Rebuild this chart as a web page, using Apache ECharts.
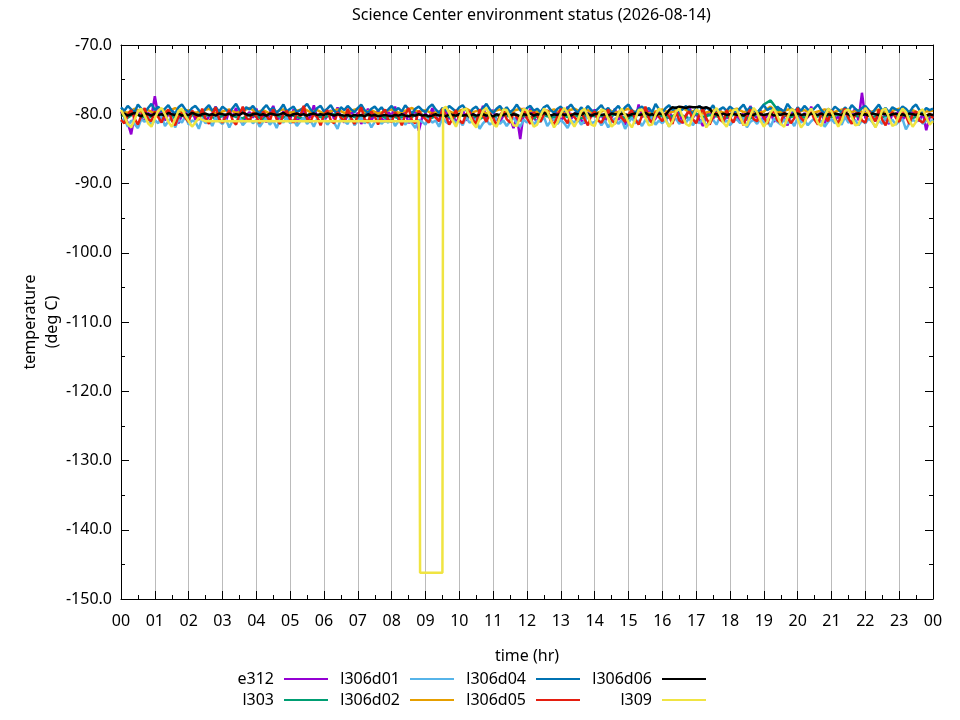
<!DOCTYPE html>
<html>
<head>
<meta charset="utf-8">
<script src="https://cdn.jsdelivr.net/npm/echarts@6/dist/echarts.min.js"></script>
<style>
html,body{margin:0;padding:0;background:#fff;}
#chart{width:960px;height:720px;}
</style>
</head>
<body>
<div id="chart"></div>
<script>
// ---------------- data (temperature, deg C) ----------------
const chartTitle = 'Science Center environment status (2026-08-14)';
const xName = 'time (hr)';
const yName = 'temperature\n(deg C)';
const hourTicks = ['00','01','02','03','04','05','06','07','08','09','10','11','12',
  '13','14','15','16','17','18','19','20','21','22','23','00'];
const seriesNames = ['e312','l303','l306d01','l306d02','l306d04','l306d05','l306d06','l309'];
const seriesColors = ['#9400d3','#009e73','#56b4e9','#e69f00','#0072b2','#e51e10','#000000','#f0e442'];

// sampled every 0.1 hr (6 min)
const e312 = [
-79.6,-80.4,-81.2,-82.9,-80.1,-79.3,-80.6,-81.0,-79.8,-80.3,
-77.4,-80.2,-79.5,-80.9,-80.0,-79.2,-80.7,-81.3,-80.1,-79.7,
-80.5,-79.4,-80.8,-80.2,-79.6,-81.1,-80.3,-79.9,-78.9,-80.6,
-80.0,-81.0,-79.5,-80.4,-79.1,-80.8,-81.4,-80.2,-79.7,-80.5,
-79.2,-80.6,-80.1,-81.2,-79.8,-78.8,-80.4,-80.9,-79.6,-80.2,
-80.7,-79.3,-81.3,-80.0,-79.5,-80.8,-80.3,-78.7,-80.6,-79.9,
-81.0,-80.2,-79.4,-80.7,-79.0,-80.5,-81.2,-80.1,-79.6,-80.4,
-79.8,-81.4,-80.3,-79.2,-80.9,-80.0,-79.5,-80.6,-81.1,-79.7,
-80.2,-78.9,-80.8,-80.4,-79.6,-81.3,-80.1,-79.4,-82.4,-80.5,
-79.9,-80.6,-79.1,-80.3,-81.0,-80.2,-79.5,-80.7,-79.8,-81.2,
-80.4,-79.3,-80.9,-80.1,-79.7,-81.4,-80.3,-78.8,-80.6,-80.0,
-79.4,-80.8,-81.1,-80.2,-79.6,-80.5,-82.0,-80.3,-83.6,-79.9,
-80.6,-79.2,-80.4,-81.2,-79.8,-80.1,-79.5,-80.9,-80.3,-79.6,
-81.0,-80.2,-78.9,-80.7,-80.0,-79.4,-80.8,-81.3,-79.7,-80.4,
-79.3,-80.6,-80.1,-81.1,-79.9,-80.5,-79.2,-80.8,-80.2,-81.5,
-80.3,-79.6,-80.9,-78.6,-80.4,-80.0,-79.5,-81.2,-80.6,-79.8,
-80.2,-81.0,-79.4,-80.7,-80.1,-79.7,-81.3,-80.4,-78.9,-80.5,
-79.9,-80.8,-81.7,-80.2,-79.5,-80.6,-80.0,-79.3,-81.0,-80.4,
-80.7,-79.6,-80.3,-81.2,-79.8,-80.9,-78.8,-80.1,-80.5,-79.4,
-80.8,-80.2,-79.7,-81.1,-80.4,-79.2,-80.6,-81.6,-80.0,-79.5,
-80.3,-81.0,-79.8,-80.5,-78.9,-80.7,-80.2,-79.6,-81.3,-80.1,
-79.4,-80.8,-80.3,-81.2,-79.7,-80.5,-80.0,-79.2,-80.9,-76.9,
-80.6,-79.8,-80.4,-81.0,-80.2,-79.5,-80.7,-81.4,-79.9,-80.3,
-79.3,-80.8,-80.1,-81.2,-79.6,-80.4,-81.0,-79.8,-82.3,-80.5,
-80.2];

// sampled every 0.2 hr (12 min)
const l303 = [
-80.1,-80.5,-79.8,-80.3,-80.6,
-80.0,-80.4,-79.9,-80.6,-80.2,
-80.5,-79.8,-80.3,-80.1,-80.7,
-80.2,-79.9,-80.4,-80.6,-80.0,
-80.3,-80.7,-79.9,-80.2,-80.5,
-80.0,-80.4,-80.6,-79.8,-80.3,
-80.5,-80.1,-79.9,-80.4,-80.2,
-80.6,-80.0,-80.3,-79.9,-80.5,
-80.2,-80.6,-80.1,-80.4,-79.8,
-80.3,-80.5,-80.0,-80.2,-80.6,
-79.9,-80.4,-80.2,-80.7,-80.1,
-80.5,-80.0,-80.3,-79.8,-80.4,
-80.2,-80.6,-79.9,-80.3,-80.5,
-80.0,-80.4,-80.1,-80.6,-79.9,
-80.3,-80.2,-80.5,-80.0,-80.4,
-80.6,-79.9,-80.2,-80.4,-80.1,
-80.3,-80.5,-80.0,-80.2,-80.6,
-79.9,-80.4,-80.1,-80.3,-80.5,
-80.2,-80.0,-80.4,-80.6,-79.9,
-78.6,-78.0,-79.3,-80.2,-80.4,
-80.1,-80.5,-79.9,-80.3,-80.2,
-80.4,-80.0,-80.6,-80.1,-80.3,
-79.8,-80.4,-80.2,-80.5,-80.0,
-80.3,-80.1,-80.6,-79.9,-80.2,
-80.4];

// sampled every 0.1 hr
const l306d01 = [
-81.2,-80.6,-81.8,-80.9,-81.4,-82.0,-80.7,-81.1,-80.4,-81.6,
-80.8,-81.3,-80.2,-81.7,-81.0,-80.5,-81.9,-80.8,-81.2,-80.3,
-81.5,-80.9,-81.1,-82.1,-80.6,-81.3,-80.8,-81.7,-80.4,-81.0,
-81.4,-80.7,-81.9,-80.9,-81.2,-80.3,-81.6,-81.0,-80.6,-81.3,
-80.8,-81.8,-81.1,-80.5,-81.5,-80.9,-82.0,-80.7,-81.2,-80.4,
-81.3,-80.8,-81.7,-81.0,-80.5,-81.4,-80.9,-81.8,-80.6,-81.1,
-80.7,-81.5,-80.9,-81.2,-82.1,-80.6,-81.0,-81.4,-80.3,-81.6,
-81.0,-80.5,-81.3,-80.8,-81.9,-81.1,-80.6,-81.4,-80.9,-81.2,
-80.4,-81.7,-81.0,-80.7,-81.5,-80.9,-81.3,-82.0,-80.8,-81.1,
-81.5,-80.6,-81.2,-80.9,-81.8,-80.5,-81.1,-81.4,-80.7,-81.3,
-80.9,-81.6,-80.4,-81.2,-81.0,-80.7,-82.1,-81.3,-80.8,-81.5,
-81.1,-80.6,-81.4,-80.9,-81.7,-81.0,-80.5,-81.3,-81.8,-80.8,
-81.2,-80.6,-81.5,-80.9,-81.1,-80.4,-81.7,-81.0,-80.7,-81.4,
-80.8,-81.3,-82.0,-80.9,-81.2,-80.6,-81.5,-81.0,-80.3,-81.3,
-81.1,-80.7,-81.6,-80.9,-81.9,-81.0,-80.6,-81.4,-80.8,-82.1,
-81.2,-80.5,-81.3,-80.9,-81.7,-80.8,-81.1,-80.4,-81.5,-80.9,
-81.3,-80.7,-81.8,-81.0,-80.6,-81.4,-80.9,-81.2,-80.5,-81.6,
-80.9,-81.3,-80.6,-81.7,-81.0,-80.8,-81.5,-80.4,-81.2,-80.9,
-81.6,-81.0,-80.7,-81.3,-80.5,-81.9,-81.1,-80.8,-81.4,-80.6,
-81.2,-80.9,-81.8,-80.6,-81.1,-81.5,-80.7,-81.3,-80.9,-81.7,
-80.5,-81.2,-80.8,-81.6,-81.0,-80.6,-81.4,-80.9,-81.8,-81.1,
-80.7,-81.3,-80.9,-81.5,-80.4,-81.2,-81.0,-80.8,-81.6,-80.9,
-81.3,-80.6,-81.1,-81.8,-80.9,-81.4,-80.5,-81.2,-80.8,-81.5,
-81.0,-80.7,-82.2,-81.3,-80.8,-81.1,-80.6,-81.4,-80.9,-81.2,
-80.8];

// sampled every 0.2 hr
const l306d02 = [
-79.5,-79.8,-79.2,-79.7,-79.4,
-79.9,-79.3,-79.6,-79.1,-79.7,
-79.4,-79.8,-79.5,-79.2,-79.9,
-79.6,-79.3,-79.8,-79.5,-79.1,
-79.7,-79.4,-79.9,-79.6,-79.3,
-79.8,-79.5,-79.2,-79.7,-79.4,
-79.9,-79.6,-79.3,-79.8,-79.5,
-79.2,-79.7,-79.4,-79.9,-79.6,
-79.3,-79.8,-79.5,-79.1,-79.7,
-79.4,-79.9,-79.6,-79.3,-79.8,
-79.5,-79.2,-79.7,-79.4,-79.9,
-79.6,-79.3,-79.8,-79.5,-79.2,
-79.7,-79.4,-79.9,-79.6,-79.3,
-79.8,-79.5,-79.2,-79.7,-79.4,
-79.9,-79.6,-79.3,-79.8,-79.5,
-79.2,-79.7,-79.4,-79.9,-79.6,
-79.3,-79.8,-79.5,-79.1,-79.7,
-79.4,-79.9,-79.6,-79.3,-79.8,
-79.5,-79.2,-79.7,-79.4,-79.9,
-79.6,-78.9,-79.8,-79.5,-79.2,
-79.7,-79.4,-79.9,-79.6,-79.3,
-79.8,-79.5,-79.2,-79.7,-79.4,
-79.9,-79.6,-79.3,-79.8,-79.5,
-79.2,-79.7,-79.4,-79.9,-79.6,
-79.5];

// sampled every 0.1 hr
const l306d04 = [
-79.0,-79.5,-78.8,-79.3,-79.7,-78.6,-79.2,-79.8,-79.1,-78.5,
-79.4,-78.9,-79.6,-79.2,-78.7,-79.5,-79.9,-79.0,-78.6,-79.3,
-79.7,-79.1,-78.8,-79.4,-79.9,-79.2,-78.7,-79.5,-79.0,-79.6,
-78.9,-79.3,-79.8,-79.1,-78.5,-79.4,-79.7,-79.0,-79.3,-78.8,
-79.5,-79.9,-79.2,-78.7,-79.4,-79.1,-79.8,-79.3,-78.6,-79.6,
-79.2,-78.9,-79.7,-79.4,-79.0,-78.5,-79.3,-79.8,-79.1,-78.8,
-79.6,-79.2,-78.7,-79.5,-79.9,-79.0,-79.4,-78.8,-79.3,-79.7,
-79.1,-78.6,-79.4,-79.8,-79.2,-78.9,-79.5,-79.0,-79.7,-79.3,
-78.8,-79.5,-79.1,-79.6,-78.7,-79.3,-79.9,-79.2,-78.9,-79.4,
-79.7,-79.0,-78.6,-79.3,-79.8,-79.1,-79.5,-78.8,-79.2,-79.6,
-79.0,-78.7,-79.4,-79.9,-79.2,-78.9,-79.6,-79.1,-78.5,-79.3,
-79.8,-79.2,-78.8,-79.5,-79.0,-79.7,-79.3,-78.6,-79.4,-79.9,
-79.1,-78.8,-79.5,-79.2,-79.7,-79.0,-78.7,-79.4,-79.8,-79.2,
-78.9,-79.6,-79.1,-78.6,-79.3,-79.8,-79.0,-79.5,-78.8,-79.4,
-79.7,-79.2,-78.7,-79.5,-79.1,-79.9,-79.3,-78.8,-79.6,-79.0,
-78.6,-79.4,-79.8,-79.2,-78.9,-79.5,-79.1,-79.7,-78.5,-79.3,
-79.8,-79.1,-78.7,-79.4,-79.0,-79.6,-79.3,-78.8,-79.5,-79.9,
-79.2,-78.8,-79.6,-79.0,-79.4,-78.7,-79.7,-79.3,-79.0,-79.5,
-78.9,-79.3,-79.8,-79.1,-78.6,-79.5,-79.0,-79.4,-79.8,-79.2,
-78.7,-79.4,-79.1,-79.7,-78.9,-79.3,-79.6,-78.5,-79.2,-79.8,
-79.0,-79.5,-78.8,-79.3,-79.7,-79.1,-78.6,-79.4,-79.9,-79.2,
-79.6,-78.9,-79.3,-79.8,-79.0,-79.5,-78.7,-79.2,-79.6,-79.1,
-78.8,-79.4,-79.9,-79.2,-78.6,-79.5,-79.1,-79.7,-79.0,-79.3,
-79.5,-78.9,-79.2,-79.8,-79.0,-78.6,-79.4,-79.7,-79.1,-79.4,
-79.2];

// sampled every 0.1 hr
const l306d05 = [
-80.8,-81.3,-80.1,-79.4,-80.6,-81.5,-80.2,-79.1,-80.7,-81.0,
-79.6,-80.4,-81.2,-80.0,-79.3,-80.9,-81.6,-80.3,-79.8,-80.5,
-81.1,-79.5,-80.2,-80.8,-79.2,-80.6,-81.4,-80.0,-79.0,-80.7,
-81.2,-80.3,-79.4,-80.9,-81.5,-80.1,-78.9,-80.5,-81.0,-79.7,
-80.4,-81.3,-79.6,-80.2,-81.0,-79.3,-80.7,-81.4,-80.0,-79.5,
-80.8,-81.2,-79.8,-80.3,-78.8,-80.6,-81.1,-79.9,-80.4,-81.6,
-80.1,-79.4,-80.9,-81.3,-79.7,-80.5,-81.0,-79.2,-80.6,-81.4,
-80.2,-79.0,-80.7,-81.2,-79.6,-80.3,-81.5,-80.0,-79.3,-80.8,
-81.1,-79.7,-80.4,-81.6,-80.1,-79.1,-80.9,-81.3,-79.5,-80.2,
-80.7,-81.2,-79.8,-80.5,-81.0,-79.2,-80.3,-81.5,-80.6,-79.4,
-80.9,-81.3,-80.0,-79.6,-80.8,-81.4,-79.3,-80.2,-81.1,-79.9,
-80.5,-81.7,-80.1,-79.5,-80.7,-81.2,-79.8,-80.4,-81.0,-79.1,
-80.6,-81.4,-79.7,-80.2,-81.1,-80.0,-79.4,-80.8,-81.5,-80.3,
-79.2,-80.6,-81.3,-79.9,-80.4,-81.0,-79.5,-80.7,-81.6,-80.1,
-79.6,-80.9,-81.2,-80.3,-79.3,-80.8,-81.4,-79.8,-80.5,-81.1,
-80.0,-79.4,-80.7,-81.5,-80.2,-78.9,-80.6,-81.3,-79.7,-80.4,
-81.0,-79.8,-80.3,-81.4,-79.5,-80.9,-81.2,-80.1,-79.6,-80.7,
-81.3,-80.0,-79.2,-80.6,-81.5,-80.3,-79.7,-80.8,-81.1,-79.4,
-80.5,-81.2,-79.9,-80.4,-81.6,-80.1,-79.3,-80.7,-81.0,-79.8,
-80.3,-81.4,-80.0,-79.5,-80.9,-81.2,-79.7,-80.4,-81.3,-80.6,
-79.1,-80.5,-81.1,-80.2,-79.6,-80.8,-81.5,-79.9,-80.3,-81.0,
-79.4,-80.7,-81.3,-80.1,-79.2,-80.6,-81.4,-80.0,-79.8,-80.9,
-81.2,-79.5,-80.4,-81.0,-79.3,-80.8,-81.6,-80.2,-79.7,-80.5,
-81.1,-79.8,-80.3,-81.4,-80.0,-79.6,-80.9,-81.2,-80.4,-79.9,
-80.6];

// sampled every 0.1 hr
const l306d06 = [
-80.1,-79.9,-80.2,-80.0,-79.8,-80.1,-80.3,-79.9,-80.0,-80.2,
-79.9,-80.1,-80.0,-80.2,-79.8,-80.0,-80.1,-79.9,-80.2,-80.0,
-80.1,-79.8,-80.0,-80.2,-80.0,-79.9,-80.1,-80.0,-80.2,-79.9,
-80.0,-80.1,-79.9,-80.2,-80.0,-80.1,-79.8,-80.0,-80.2,-80.0,
-79.9,-80.1,-80.0,-80.2,-79.9,-80.0,-80.1,-80.0,-79.8,-80.1,
-80.2,-80.0,-79.9,-80.1,-80.0,-80.2,-80.0,-79.9,-80.1,-80.0,
-80.1,-79.9,-80.0,-80.2,-80.0,-80.1,-80.2,-80.1,-80.3,-80.1,
-80.2,-80.1,-80.3,-80.0,-80.2,-80.1,-80.3,-80.2,-80.1,-80.2,
-80.3,-80.1,-80.2,-80.0,-80.2,-80.3,-80.1,-80.2,-80.0,-80.2,
-80.1,-80.3,-80.2,-80.0,-80.2,-80.1,-80.3,-80.0,-80.1,-80.2,
-80.0,-80.2,-80.1,-80.3,-80.0,-80.2,-80.1,-80.0,-80.2,-80.1,
-80.3,-80.0,-80.2,-80.1,-79.9,-80.2,-80.0,-80.1,-80.3,-80.0,
-80.1,-79.9,-80.2,-80.0,-80.1,-79.8,-80.0,-80.2,-80.0,-80.1,
-79.9,-80.1,-80.0,-80.2,-79.9,-80.0,-80.1,-79.8,-80.0,-80.2,
-80.0,-79.9,-80.1,-80.0,-80.2,-79.9,-80.0,-80.1,-79.9,-80.0,
-80.2,-80.0,-79.9,-80.1,-80.0,-79.8,-80.1,-80.0,-80.2,-79.9,
-80.0,-80.1,-79.4,-79.0,-79.1,-78.9,-79.0,-79.1,-78.9,-79.0,
-79.0,-78.9,-79.1,-79.0,-79.2,-79.9,-80.0,-80.2,-79.9,-80.1,
-80.0,-79.9,-80.1,-80.0,-80.2,-79.9,-80.0,-80.1,-79.8,-80.0,
-80.1,-80.0,-79.9,-80.2,-80.0,-80.1,-79.9,-80.0,-80.1,-80.0,
-79.9,-80.1,-80.0,-80.2,-79.9,-80.0,-80.1,-79.9,-80.2,-80.0,
-80.1,-79.9,-80.0,-80.1,-79.8,-80.0,-80.2,-80.0,-79.9,-80.1,
-80.0,-80.2,-79.9,-80.0,-80.1,-79.9,-80.0,-80.2,-80.0,-79.9,
-80.1,-80.0,-80.2,-79.9,-80.0,-80.1,-79.9,-80.0,-80.2,-80.0,
-80.1];

// sampled every 0.1 hr
const l309 = [
-79.4,-80.3,-81.4,-81.9,-80.8,-79.6,-79.2,-80.2,-81.3,-81.8,
-80.6,-79.5,-79.1,-80.0,-81.1,-81.8,-80.7,-79.5,-79.2,-80.2,
-81.0,-81.8,-81.2,-80.5,-80.8,-81.0,-81.0,-81.0,-81.0,-81.0,
-81.0,-81.0,-81.0,-81.0,-81.0,-81.0,-81.0,-81.0,-81.0,-81.0,
-81.0,-81.0,-81.0,-81.0,-81.0,-81.0,-81.0,-81.0,-81.0,-81.0,
-81.0,-81.0,-81.0,-81.0,-81.0,-81.0,-81.0,-81.0,-81.0,-81.0,
-81.0,-81.0,-81.0,-81.0,-81.0,-81.0,-81.0,-81.0,-81.0,-81.0,
-81.0,-81.0,-81.0,-81.0,-81.0,-81.0,-81.0,-81.0,-81.0,-81.0,
-81.0,-81.0,-81.0,-81.0,-81.0,-81.0,-81.0,-81.0,-81.0,-146.2,
-146.2,-146.2,-146.2,-146.2,-146.2,-146.2,-78.9,-79.8,-80.9,-81.8,
-80.6,-79.4,-79.2,-80.2,-81.3,-81.9,-80.7,-79.5,-79.1,-80.3,
-81.4,-81.8,-80.5,-79.3,-79.4,-80.5,-81.6,-81.7,-80.4,-79.2,
-79.5,-80.7,-81.8,-81.5,-80.2,-79.2,-79.6,-80.8,-81.9,-81.2,
-79.9,-79.1,-79.8,-81.0,-81.8,-80.9,-79.6,-79.2,-80.3,-81.5,
-81.7,-80.4,-79.3,-79.5,-80.6,-81.8,-81.3,-79.9,-79.2,-80.1,
-81.2,-81.9,-80.7,-79.4,-79.3,-80.5,-81.6,-81.5,-80.1,-79.2,
-79.7,-80.9,-81.8,-81.0,-79.6,-79.2,-80.3,-81.4,-81.7,-80.4,
-79.3,-79.6,-80.8,-81.9,-81.2,-79.8,-79.1,-80.0,-81.2,-81.8,
-80.6,-79.4,-79.3,-80.4,-81.5,-81.6,-80.2,-79.1,-79.7,-80.9,
-81.8,-81.1,-79.7,-79.2,-80.2,-81.4,-81.8,-80.5,-79.3,-79.5,
-80.7,-81.9,-81.3,-79.9,-79.2,-80.1,-81.3,-81.7,-80.3,-79.2,
-79.6,-80.8,-81.8,-81.0,-79.5,-79.3,-80.4,-81.6,-81.5,-80.0,
-79.1,-79.8,-81.0,-81.9,-80.8,-79.4,-79.2,-80.5,-81.7,-81.4,
-80.0,-79.2,-79.7,-80.9,-81.8,-81.1,-79.6,-79.3,-80.4,-81.5,
-81.0];
// exact readings at the edges of the l309 dropout: [hour, temperature]
const l309Edges = [[8.84,-81.0],[8.84,-146.2],[9.52,-146.2],[9.52,-79.2]];

const seriesValues = [e312, l303, l306d01, l306d02, l306d04, l306d05, l306d06, l309];
const seriesStepHr = [0.1, 0.2, 0.1, 0.2, 0.1, 0.1, 0.1, 0.1];

// ---------------- chart ----------------
const FONT = '"Noto Sans", "Open Sans", sans-serif';

function toPairs(values, step) {
  return values.map((v, i) => [Math.round(i * step * 1000) / 1000, v]);
}

const seriesList = seriesNames.map((name, k) => {
  let data = toPairs(seriesValues[k], seriesStepHr[k]);
  if (name === 'l309') {
    data = data.concat(l309Edges.map(p => p.slice()));
    data = data.map((p, i) => ({p, i})).sort((a, b) => a.p[0] - b.p[0] || a.i - b.i).map(o => o.p);
  }
  return {
    name, type: 'line', data,
    showSymbol: false, symbol: 'none',
    lineStyle: { color: seriesColors[k], width: 2.5 },
    itemStyle: { color: seriesColors[k] },
    emphasis: { disabled: true },
    animation: false, z: 2 + k
  };
});

// legend layout: 4 columns x 2 rows, text right-aligned before the line sample
const legendRightEdges = [328, 454, 580, 706];
const legendRowTops = [671, 692];
const legends = seriesNames.map((name, k) => ({
  data: [name],
  selectedMode: false,
  orient: 'horizontal',
  align: 'right',
  right: 960 - legendRightEdges[Math.floor(k / 2)],
  top: legendRowTops[k % 2],
  padding: 0,
  icon: 'rect',
  itemWidth: 44,
  itemHeight: 2,
  textStyle: { fontFamily: FONT, fontSize: 16, color: '#000', padding: [0, 5, 0, 0] }
}));

const axisCommonX = {
  type: 'value', min: 0, max: 24, interval: 1,
  axisLine: { show: true, onZero: false, lineStyle: { color: '#000', width: 1 } },
  axisTick: { show: true, inside: true, length: 8, lineStyle: { color: '#000' } },
  minorTick: { show: true, splitNumber: 2, length: 4, lineStyle: { color: '#000' } }
};
const axisCommonY = {
  type: 'value', min: -150, max: -70, interval: 10,
  axisLine: { show: true, onZero: false, lineStyle: { color: '#000', width: 1 } },
  axisTick: { show: true, inside: true, length: 8, lineStyle: { color: '#000' } },
  minorTick: { show: true, splitNumber: 2, length: 4, lineStyle: { color: '#000' } },
  splitLine: { show: false }
};

const option = {
  backgroundColor: '#fff',
  animation: false,
  title: {
    text: chartTitle, left: 347, top: 2,
    textStyle: { fontFamily: FONT, fontSize: 16, fontWeight: 'normal', color: '#000' }
  },
  legend: legends,
  grid: { left: 121, right: 27, top: 45, bottom: 121, containLabel: false },
  xAxis: [
    Object.assign({}, axisCommonX, {
      position: 'bottom',
      name: xName, nameLocation: 'middle', nameGap: 49, nameMoveOverlap: false,
      nameTextStyle: { fontFamily: FONT, fontSize: 16, color: '#000' },
      axisLabel: {
        fontFamily: FONT, fontSize: 16, color: '#000', margin: 14,
        formatter: v => hourTicks[Math.round(v)]
      },
      splitLine: { show: true, lineStyle: { color: '#bbbbbb', width: 1 } }
    }),
    Object.assign({}, axisCommonX, {
      position: 'top', axisLabel: { show: false }, splitLine: { show: false }
    })
  ],
  yAxis: [
    Object.assign({}, axisCommonY, {
      position: 'left',
      name: yName, nameLocation: 'middle', nameRotate: 90, nameGap: 58, nameMoveOverlap: false,
      nameTextStyle: { fontFamily: FONT, fontSize: 16, color: '#000', lineHeight: 22, align: 'center' },
      axisLabel: {
        fontFamily: FONT, fontSize: 16, color: '#000', margin: 9,
        formatter: v => v.toFixed(1)
      }
    }),
    Object.assign({}, axisCommonY, {
      position: 'right', axisLabel: { show: false }
    })
  ],
  series: seriesList
};

const chart = echarts.init(document.getElementById('chart'), null, { renderer: 'canvas' });
chart.setOption(option);
</script>
</body>
</html>
